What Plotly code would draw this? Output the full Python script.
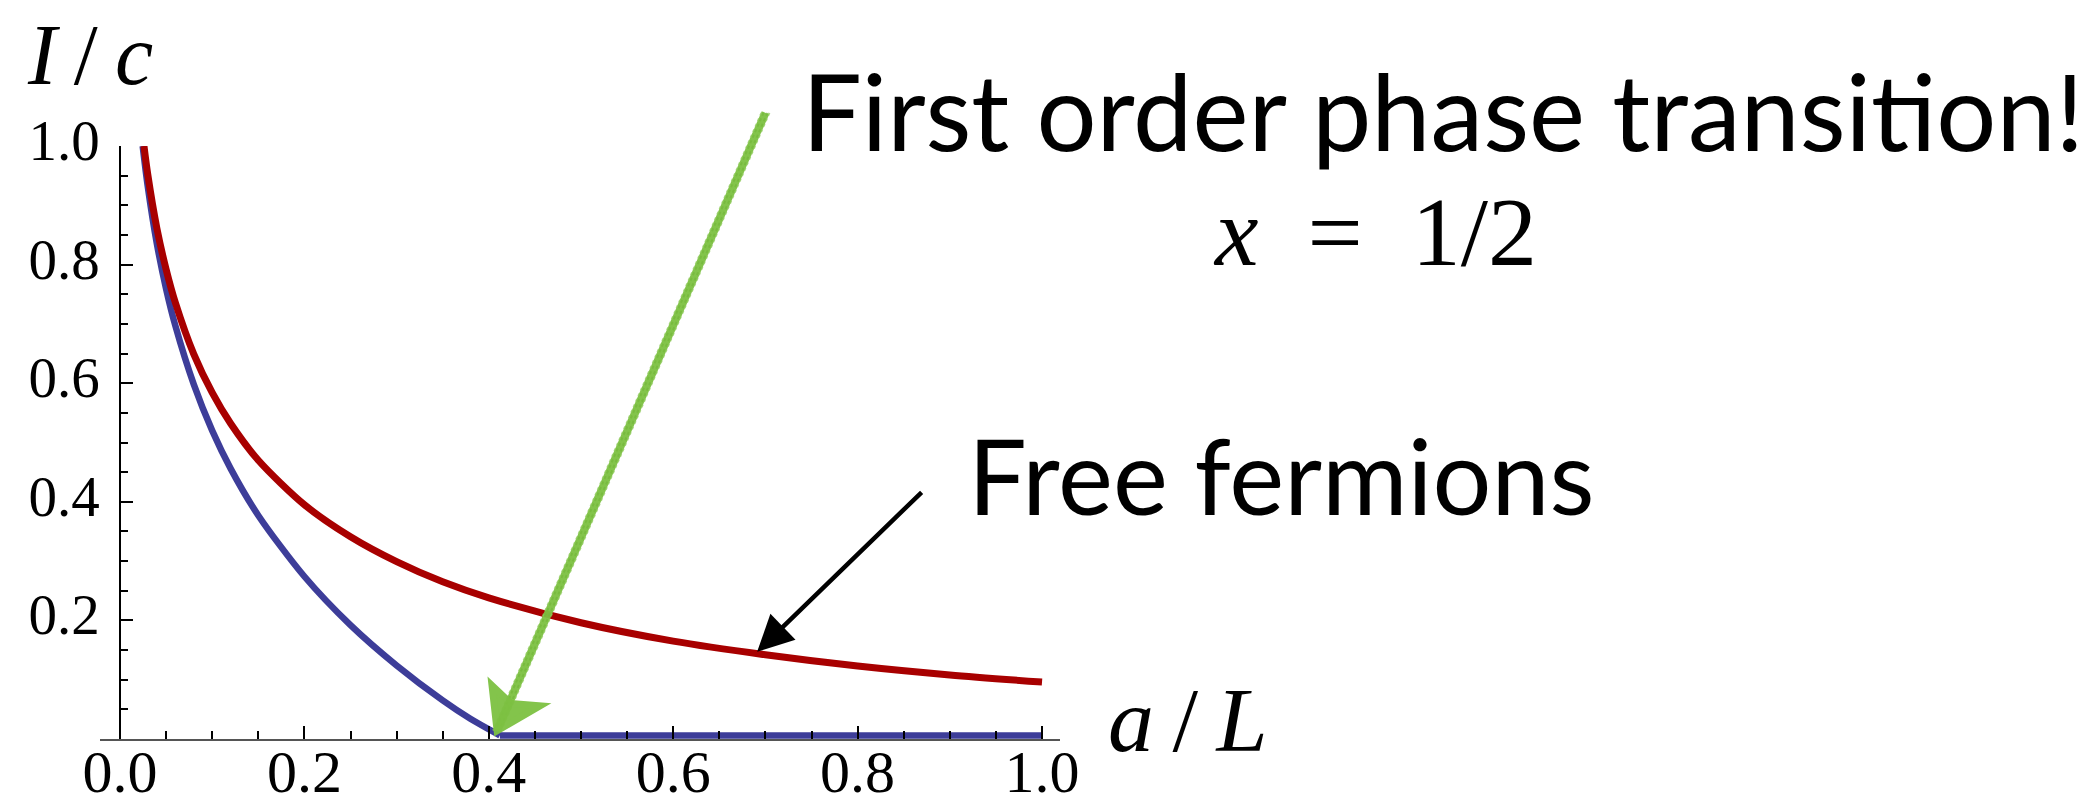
import plotly.graph_objects as go

W, H = 2098, 807

# a/L samples with the two I/c curves
red_x = [0.026, 0.03, 0.04, 0.05, 0.06, 0.08, 0.10, 0.12, 0.15, 0.20, 0.25, 0.30,
         0.35, 0.40, 0.50, 0.60, 0.70, 0.80, 0.90, 1.00]
red_y = [1.000, 0.953, 0.861, 0.792, 0.736, 0.649, 0.584, 0.532, 0.470, 0.395, 0.341, 0.299,
         0.265, 0.238, 0.196, 0.165, 0.142, 0.123, 0.108, 0.096]

blue_x = [0.0246, 0.03, 0.04, 0.05, 0.06, 0.08, 0.10, 0.12, 0.15, 0.20, 0.25, 0.30,
          0.35, 0.38, 0.412, 1.00]
blue_y = [1.000, 0.933, 0.835, 0.759, 0.697, 0.598, 0.520, 0.456, 0.377, 0.274, 0.192, 0.124,
          0.065, 0.034, 0.006, 0.006]

x_ticks = [0.0, 0.2, 0.4, 0.6, 0.8, 1.0]
y_ticks = [0.2, 0.4, 0.6, 0.8, 1.0]

# transition marker (green) and free-fermion pointer (black), in data units
green_tail = (0.700, 1.056)
green_tip = (0.409, 0.014)
green_barb_l = (0.4035, 0.090)
green_barb_r = (0.4555, 0.056)
green_notch = (0.424, 0.060)
black_tip = (0.691, 0.147)

RED = "#a80000"
BLUE = "#3d3d99"
GREEN = "#7dc142"

X_RANGE = [-0.0217, 1.0195]
Y_RANGE = [0.0, 1.0]
X_DOM = [100 / W, 1060 / W]
Y_DOM = [1 - 739 / H, 1 - 146 / H]


def to_paper(pt, dx=0.0, dy=0.0):
    t, v = pt
    px = X_DOM[0] + (t - X_RANGE[0]) / (X_RANGE[1] - X_RANGE[0]) * (X_DOM[1] - X_DOM[0])
    py = Y_DOM[0] + (v - Y_RANGE[0]) / (Y_RANGE[1] - Y_RANGE[0]) * (Y_DOM[1] - Y_DOM[0])
    return px + dx / W, py - dy / H


def pix(x, y):
    return x / W, 1 - y / H


fig = go.Figure()

# holographic curve: smooth part down to the transition, then flat
fig.add_trace(go.Scatter(x=blue_x[:-1], y=blue_y[:-1], mode="lines",
                         line=dict(color=BLUE, width=6.5, shape="spline", smoothing=0.8),
                         hoverinfo="skip"))
fig.add_trace(go.Scatter(x=blue_x[-2:], y=blue_y[-2:], mode="lines",
                         line=dict(color=BLUE, width=6.5), hoverinfo="skip"))
# free fermions
fig.add_trace(go.Scatter(x=red_x, y=red_y, mode="lines",
                         line=dict(color=RED, width=7, shape="spline", smoothing=0.8),
                         hoverinfo="skip"))

tick_font = dict(family="Liberation Serif, Times New Roman, serif", color="black")

fig.update_layout(
    width=W, height=H,
    margin=dict(l=0, r=0, t=0, b=0),
    paper_bgcolor="white", plot_bgcolor="white",
    showlegend=False,
    xaxis=dict(
        range=X_RANGE, domain=X_DOM, anchor="y", automargin=False,
        showgrid=False, zeroline=False,
        showline=True, linecolor="#555555", linewidth=2,
        tickvals=x_ticks, ticktext=[f"{v:.1f}" for v in x_ticks],
        ticks="inside", ticklen=13, tickwidth=1.5, tickcolor="black",
        tickfont=dict(size=60, **tick_font),
        ticklabelstandoff=-21,
        minor=dict(tick0=0, dtick=0.05, ticks="inside", ticklen=8, tickwidth=1.5,
                   tickcolor="black", showgrid=False),
    ),
    yaxis=dict(
        range=Y_RANGE, domain=Y_DOM, anchor="free", position=120 / W, automargin=False,
        showgrid=False, zeroline=False,
        showline=True, linecolor="black", linewidth=1.5,
        tickvals=y_ticks, ticktext=[f"{v:.1f}" for v in y_ticks],
        ticks="inside", ticklen=12, tickwidth=1.5, tickcolor="black",
        tickfont=dict(size=57, **tick_font),
        ticklabelstandoff=8, ticklabelshift=-6,
        minor=dict(tick0=0, dtick=0.05, ticks="inside", ticklen=7, tickwidth=1.5,
                   tickcolor="black", showgrid=False),
    ),
)

# green hand-drawn arrow to the transition point: a main stroke plus
# slightly offset thin strokes to give a rough chalk edge
tx, ty = to_paper(green_tail)
hx, hy = to_paper(green_tip)
lx, ly = to_paper(green_barb_l)
rx, ry = to_paper(green_barb_r)
nx, ny = to_paper(green_notch)
fig.add_shape(type="path", xref="paper", yref="paper",
              path=f"M {tx},{ty} L {hx},{hy}",
              line=dict(color=GREEN, width=8), opacity=0.95)
for off, col in [(-4, "#8fcb5c"), (4, "#8fcb5c"), (-2, "#74b83a"), (2, "#74b83a")]:
    ax0, ay0 = to_paper(green_tail, off, 0)
    ax1, ay1 = to_paper(green_tip, off, 0)
    fig.add_shape(type="path", xref="paper", yref="paper",
                  path=f"M {ax0},{ay0} L {ax1},{ay1}",
                  line=dict(color=col, width=2, dash="dot"), opacity=0.7)
fig.add_shape(type="path", xref="paper", yref="paper",
              path=f"M {lx},{ly} L {hx},{hy} L {rx},{ry} L {nx},{ny} Z",
              line=dict(color=GREEN, width=7), fillcolor=GREEN, opacity=0.95)

# black pointer to the free-fermion curve
fig.add_annotation(x=black_tip[0], y=black_tip[1], xref="x", yref="y",
                   text="", showarrow=True, ax=166, ay=-161,
                   arrowhead=2, arrowsize=1.6, arrowwidth=4.5, arrowcolor="black",
                   standoff=0)

sans = "Lato, Gill Sans, sans-serif"
serif = "Liberation Serif, Times New Roman, serif"

x0, y0 = pix(800, 110)
fig.add_annotation(x=x0, y=y0, xref="paper", yref="paper", xanchor="left", yanchor="middle",
                   text="First order phase transition!", showarrow=False,
                   font=dict(family=sans, size=106, color="black"))
x0, y0 = pix(966, 474)
fig.add_annotation(x=x0, y=y0, xref="paper", yref="paper", xanchor="left", yanchor="middle",
                   text="Free fermions", showarrow=False,
                   font=dict(family=sans, size=104, color="black"))
x0, y0 = pix(1375, 232)
fig.add_annotation(x=x0, y=y0, xref="paper", yref="paper", xanchor="center", yanchor="middle",
                   text="<i>x</i>\u2002=\u20021/2", showarrow=False,
                   font=dict(family=serif, size=98, color="black"))
x0, y0 = pix(90, 55)
fig.add_annotation(x=x0, y=y0, xref="paper", yref="paper", xanchor="center", yanchor="middle",
                   text="<i>I</i>\u2009/\u2009<i>c</i>", showarrow=False,
                   font=dict(family=serif, size=86, color="black"))
x0, y0 = pix(1188, 720)
fig.add_annotation(x=x0, y=y0, xref="paper", yref="paper", xanchor="center", yanchor="middle",
                   text="<i>a</i>\u2009/\u2009<i>L</i>", showarrow=False,
                   font=dict(family=serif, size=92, color="black"))

fig.write_html("out.html")
